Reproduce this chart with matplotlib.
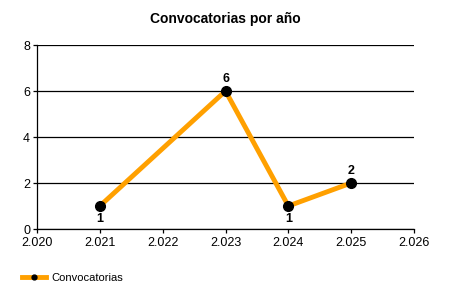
import matplotlib
matplotlib.use("Agg")
import matplotlib.pyplot as plt

plt.rcParams['font.family'] = ['Liberation Sans', 'DejaVu Sans']

years = [2021, 2023, 2024, 2025]
counts = [1, 6, 1, 2]
label_pos = ['below', 'above', 'below', 'above']
xticks = [2020, 2021, 2022, 2023, 2024, 2025, 2026]
xtick_labels = ['2.020', '2.021', '2.022', '2.023', '2.024', '2.025', '2.026']
yticks = [0, 2, 4, 6, 8]

fig = plt.figure(figsize=(4.5, 3), dpi=100)
ax = fig.add_axes([37/450, 1-229/300, (414-37)/450, (229-45)/300])

ax.plot(years, counts, color='#FFA000', lw=3.5, marker='o', ms=7,
        mfc='black', mec='black', label='Convocatorias', zorder=3, clip_on=False,
        solid_joinstyle='miter')

for x, y, p in zip(years, counts, label_pos):
    off = -9 if p == 'below' else 9
    ax.annotate(str(y), (x, y), xytext=(0, off), textcoords='offset points',
                ha='center', va='center', fontsize=9, fontweight='bold')

ax.set_xlim(2020, 2026)
ax.set_ylim(0, 8)
ax.set_xticks(xticks)
ax.set_xticklabels(xtick_labels)
ax.set_yticks(yticks)
ax.yaxis.grid(True, color='black', lw=0.9)
ax.set_axisbelow(True)
for s in ['top', 'right']:
    ax.spines[s].set_visible(False)
ax.spines['left'].set_linewidth(0.9)
ax.spines['bottom'].set_linewidth(0.9)
ax.tick_params(axis='both', labelsize=9, length=3, width=0.9)
ax.tick_params(axis='x', pad=3)
ax.tick_params(axis='y', pad=2)

fig.suptitle('Convocatorias por año', x=0.5, y=1-19/300, va='center',
             fontsize=10, fontweight='bold')

fig.legend(loc='center left', bbox_to_anchor=(12/450, 1-278/300), frameon=False,
           fontsize=8, handlelength=2.2, handletextpad=0.4, markerscale=0.5)

fig.savefig('out.png', dpi=100)
